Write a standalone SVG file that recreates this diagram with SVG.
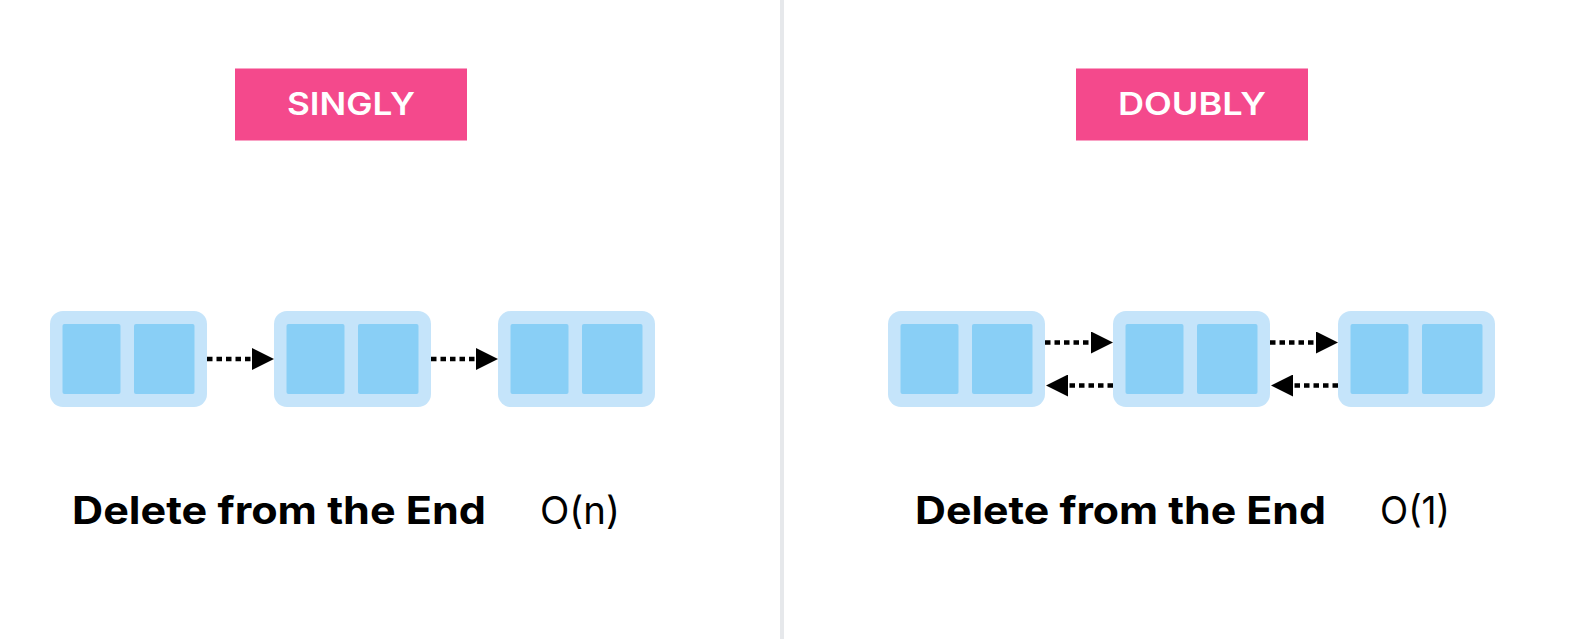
<svg xmlns="http://www.w3.org/2000/svg" width="1583" height="639" viewBox="0 0 1583 639">
  <style>
    .outer { fill: #C5E4FA; }
    .inner { fill: #89CFF6; }
    .tag { fill: #F4498C; }
    .tagtext { fill: #FFFFFF; font-family: Inter, "Liberation Sans", sans-serif; font-weight: 600; font-size: 31px; text-anchor: middle; }
    .label { fill: #000000; font-family: Inter, "Liberation Sans", sans-serif; font-weight: 700; font-size: 38px; }
    .cx { fill: #000000; font-family: Inter, "Liberation Sans", sans-serif; font-weight: 400; font-size: 38px; }
    .link { stroke: #000000; stroke-width: 4.5; stroke-dasharray: 5.5 4; fill: none; marker-end: url(#head); }
  </style>
  <defs>
    <marker id="head" markerUnits="userSpaceOnUse" markerWidth="22" markerHeight="22" viewBox="0 0 22 22" refX="0" refY="11" orient="auto">
      <path d="M0,0 L22,11 L0,22 Z" fill="#000000"/>
    </marker>
  </defs>
  <rect x="0" y="0" width="1583" height="639" fill="#FFFFFF"/>
  <rect id="divider" x="780" y="0" width="4" height="639" fill="#E6E8EB"/>

  <g id="singly-tag">
    <rect class="tag" x="235" y="68.5" width="232" height="72"/>
    <text class="tagtext" x="351" y="115" textLength="128" lengthAdjust="spacingAndGlyphs">SINGLY</text>
  </g>
  <g id="doubly-tag">
    <rect class="tag" x="1076" y="68.5" width="232" height="72"/>
    <text class="tagtext" x="1192" y="115" textLength="148" lengthAdjust="spacingAndGlyphs">DOUBLY</text>
  </g>

  <g id="s-node1">
    <rect class="outer" x="50" y="311" width="157" height="96" rx="13"/>
    <rect class="inner" x="62.5" y="324" width="58" height="70" rx="2"/>
    <rect class="inner" x="134" y="324" width="60.5" height="70" rx="2"/>
  </g>
  <g id="s-node2">
    <rect class="outer" x="274" y="311" width="157" height="96" rx="13"/>
    <rect class="inner" x="286.5" y="324" width="58" height="70" rx="2"/>
    <rect class="inner" x="358" y="324" width="60.5" height="70" rx="2"/>
  </g>
  <g id="s-node3">
    <rect class="outer" x="498" y="311" width="157" height="96" rx="13"/>
    <rect class="inner" x="510.5" y="324" width="58" height="70" rx="2"/>
    <rect class="inner" x="582" y="324" width="60.5" height="70" rx="2"/>
  </g>

  <g id="d-node1">
    <rect class="outer" x="888" y="311" width="157" height="96" rx="13"/>
    <rect class="inner" x="900.5" y="324" width="58" height="70" rx="2"/>
    <rect class="inner" x="972" y="324" width="60.5" height="70" rx="2"/>
  </g>
  <g id="d-node2">
    <rect class="outer" x="1113" y="311" width="157" height="96" rx="13"/>
    <rect class="inner" x="1125.5" y="324" width="58" height="70" rx="2"/>
    <rect class="inner" x="1197" y="324" width="60.5" height="70" rx="2"/>
  </g>
  <g id="d-node3">
    <rect class="outer" x="1338" y="311" width="157" height="96" rx="13"/>
    <rect class="inner" x="1350.5" y="324" width="58" height="70" rx="2"/>
    <rect class="inner" x="1422" y="324" width="60.5" height="70" rx="2"/>
  </g>

  <g id="connectors">
    <line class="link" x1="207" y1="359" x2="252" y2="359"/>
    <line class="link" x1="431" y1="359" x2="476" y2="359"/>
    <line class="link" x1="1045" y1="342.5" x2="1091" y2="342.5"/>
    <line class="link" x1="1113" y1="385.5" x2="1068" y2="385.5"/>
    <line class="link" x1="1270" y1="342.5" x2="1316" y2="342.5"/>
    <line class="link" x1="1338" y1="385.5" x2="1293" y2="385.5"/>
  </g>

  <g id="singly-caption">
    <text class="label" x="72" y="524" textLength="414" lengthAdjust="spacingAndGlyphs">Delete from the End</text>
    <text class="cx" x="540" y="524" textLength="80" lengthAdjust="spacingAndGlyphs">O(n)</text>
  </g>
  <g id="doubly-caption">
    <text class="label" x="915" y="524" textLength="411" lengthAdjust="spacingAndGlyphs">Delete from the End</text>
    <text class="cx" x="1380" y="524" textLength="70" lengthAdjust="spacingAndGlyphs">O(1)</text>
  </g>
</svg>
